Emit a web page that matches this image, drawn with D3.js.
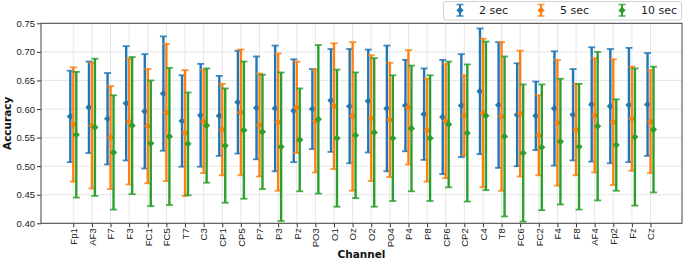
<!DOCTYPE html>
<html>
<head>
<meta charset="utf-8">
<script src="https://cdn.jsdelivr.net/npm/d3@7"></script>
<style>
  body { margin: 0; background: #fff; }
  svg { font-family: "DejaVu Sans", sans-serif; }
  .tick text { fill: #222; font-size: 9.5px; }
  .tick line { stroke: #333; }
</style>
</head>
<body>
<script>
// ---------------------------------------------------------------
// data
// ---------------------------------------------------------------
var channels = ["Fp1","AF3","F7","F3","FC1","FC5","T7","C3","CP1","CP5","P7","P3","Pz","PO3","O1","Oz",
                "O2","PO4","P4","P8","CP6","CP2","C4","T8","FC6","FC2","F4","F8","AF4","Fp2","Fz","Cz"];

var mean2  = [0.587,0.603,0.583,0.610,0.596,0.627,0.579,0.589,0.588,0.612,0.602,0.601,0.597,0.600,0.615,0.605,
              0.614,0.601,0.606,0.591,0.586,0.606,0.631,0.607,0.590,0.588,0.601,0.590,0.608,0.605,0.607,0.608];
var err2   = [0.080,0.080,0.080,0.100,0.100,0.100,0.080,0.090,0.070,0.090,0.090,0.110,0.090,0.070,0.090,0.100,
              0.090,0.110,0.080,0.080,0.100,0.090,0.110,0.110,0.090,0.060,0.100,0.080,0.100,0.100,0.100,0.090];

var mean5  = [0.573,0.571,0.550,0.578,0.570,0.594,0.558,0.578,0.564,0.594,0.572,0.577,0.603,0.579,0.605,0.587,
              0.584,0.581,0.603,0.563,0.579,0.589,0.593,0.587,0.592,0.554,0.576,0.564,0.589,0.577,0.583,0.578];
var err5   = [0.100,0.110,0.090,0.110,0.100,0.120,0.110,0.090,0.080,0.110,0.090,0.120,0.080,0.090,0.110,0.130,
              0.110,0.100,0.100,0.090,0.100,0.070,0.130,0.130,0.110,0.070,0.110,0.080,0.100,0.110,0.091,0.090];

var mean10 = [0.555,0.568,0.524,0.571,0.540,0.552,0.539,0.571,0.536,0.563,0.560,0.534,0.546,0.582,0.549,0.554,
              0.559,0.549,0.566,0.549,0.573,0.558,0.588,0.552,0.523,0.533,0.543,0.534,0.570,0.537,0.551,0.564];
var err10  = [0.110,0.120,0.100,0.120,0.110,0.120,0.090,0.100,0.100,0.120,0.100,0.130,0.090,0.130,0.120,0.110,
              0.130,0.110,0.110,0.110,0.110,0.120,0.130,0.140,0.120,0.110,0.110,0.110,0.130,0.080,0.120,0.110];

var seriesNames = ["2 sec", "5 sec", "10 sec"];
var seriesColors = ["#1f77b4", "#ff7f0e", "#2ca02c"];
var yTicks = [0.40,0.45,0.50,0.55,0.60,0.65,0.70,0.75];

// ---------------------------------------------------------------
// layout
// ---------------------------------------------------------------
var W = 685, H = 261;
var plot = { left: 41, right: 682, top: 23.3, bottom: 223.3 };
var offsets = [-0.16, 0, 0.16];   // in channel units
var capHalf = 3.5, markHalf = 3.6;

var svg = d3.select("body").append("svg")
  .attr("width", W).attr("height", H);

var x = d3.scaleLinear().domain([-1.735, 32.69]).range([plot.left, plot.right]);
var y = d3.scaleLinear().domain([0.40, 0.75]).range([plot.bottom, plot.top]);

var idx = d3.range(channels.length);

// grid
var grid = svg.append("g");
grid.selectAll(".vg").data(idx).enter().append("line")
  .attr("x1", function(i){ return x(i); }).attr("x2", function(i){ return x(i); })
  .attr("y1", plot.top).attr("y2", plot.bottom)
  .attr("stroke", "#e3e3e3").attr("stroke-width", 0.9);
grid.selectAll(".hg").data(yTicks).enter().append("line")
  .attr("x1", plot.left).attr("x2", plot.right)
  .attr("y1", function(v){ return y(v); }).attr("y2", function(v){ return y(v); })
  .attr("stroke", "#e3e3e3").attr("stroke-width", 0.9);

// axes
var yAxis = svg.append("g").attr("transform", "translate(" + plot.left + ",0)")
  .call(d3.axisLeft(y).tickValues(yTicks).tickFormat(d3.format(".2f")).tickSize(4).tickPadding(2));
yAxis.select(".domain").remove();

var xAxis = svg.append("g").attr("transform", "translate(0," + plot.bottom + ")")
  .call(d3.axisBottom(x).tickValues(idx).tickFormat(function(i){ return channels[i]; }).tickSize(4));
xAxis.select(".domain").remove();
xAxis.selectAll(".tick text")
  .attr("transform", "rotate(-90)")
  .attr("text-anchor", "end")
  .attr("x", -5).attr("y", 0).attr("dy", "0.35em");

// error bars
var series = [ { m: mean2, e: err2 }, { m: mean5, e: err5 }, { m: mean10, e: err10 } ];

series.forEach(function(s, k){
  var col = seriesColors[k];
  var g = svg.append("g");
  var bars = g.selectAll("g").data(idx).enter().append("g");
  bars.append("line")
    .attr("x1", function(i){ return x(i + offsets[k]); })
    .attr("x2", function(i){ return x(i + offsets[k]); })
    .attr("y1", function(i){ return y(s.m[i] + s.e[i]); })
    .attr("y2", function(i){ return y(s.m[i] - s.e[i]); })
    .attr("stroke", col).attr("stroke-width", 2.4);
  [1, -1].forEach(function(sign){
    bars.append("line")
      .attr("x1", function(i){ return x(i + offsets[k]) - capHalf; })
      .attr("x2", function(i){ return x(i + offsets[k]) + capHalf; })
      .attr("y1", function(i){ return y(s.m[i] + sign * s.e[i]); })
      .attr("y2", function(i){ return y(s.m[i] + sign * s.e[i]); })
      .attr("stroke", col).attr("stroke-width", 1.8).attr("stroke-opacity", 0.85);
  });
  bars.append("path")
    .attr("d", function(i){
      var cx = x(i + offsets[k]), cy = y(s.m[i]);
      return "M" + cx + "," + (cy - markHalf) + "L" + (cx + markHalf) + "," + cy +
             "L" + cx + "," + (cy + markHalf) + "L" + (cx - markHalf) + "," + cy + "Z";
    })
    .attr("fill", col);
});

// frame
svg.append("rect")
  .attr("x", plot.left).attr("y", plot.top)
  .attr("width", plot.right - plot.left).attr("height", plot.bottom - plot.top)
  .attr("fill", "none").attr("stroke", "#444").attr("stroke-width", 1);

// axis titles
svg.append("text")
  .attr("transform", "translate(11," + ((plot.top + plot.bottom) / 2) + ") rotate(-90)")
  .attr("text-anchor", "middle")
  .style("font-size", "10.5px").style("font-weight", "bold").attr("fill", "#111")
  .text("Accuracy");
svg.append("text")
  .attr("x", (plot.left + plot.right) / 2).attr("y", 258)
  .attr("text-anchor", "middle")
  .style("font-size", "10.5px").style("font-weight", "bold").attr("fill", "#111")
  .text("Channel");

// legend
var lg = svg.append("g");
lg.append("rect")
  .attr("x", 443.5).attr("y", 1.5).attr("width", 238).attr("height", 18.5)
  .attr("rx", 2.5).attr("fill", "#fff").attr("stroke", "#ccc").attr("stroke-width", 0.9);
var legX = [460, 541, 622];
seriesNames.forEach(function(name, k){
  var cx = legX[k], col = seriesColors[k];
  var it = lg.append("g");
  it.append("line").attr("x1", cx).attr("x2", cx).attr("y1", 4.5).attr("y2", 16)
    .attr("stroke", col).attr("stroke-width", 2);
  [4.5, 16].forEach(function(yy){
    it.append("line").attr("x1", cx - 3.5).attr("x2", cx + 3.5).attr("y1", yy).attr("y2", yy)
      .attr("stroke", col).attr("stroke-width", 1.6).attr("stroke-opacity", 0.8);
  });
  it.append("path")
    .attr("d", "M" + cx + "," + (10.3 - markHalf) + "L" + (cx + markHalf) + ",10.3L" + cx + "," + (10.3 + markHalf) + "L" + (cx - markHalf) + ",10.3Z")
    .attr("fill", col);
  it.append("text").attr("x", cx + 19).attr("y", 14.3)
    .style("font-size", "11px").attr("fill", "#222").text(name);
});
</script>
</body>
</html>
